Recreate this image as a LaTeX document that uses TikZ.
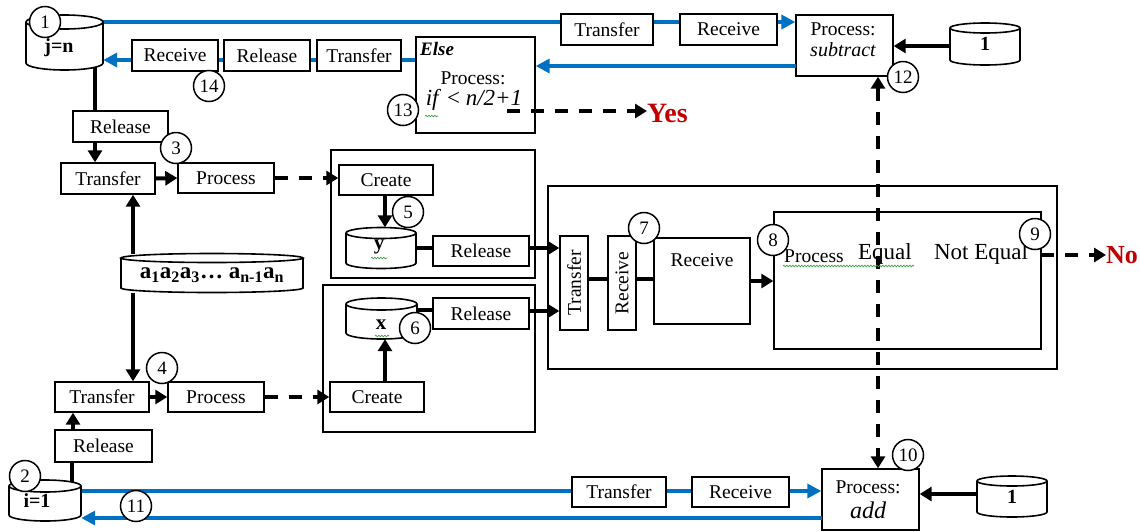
\documentclass[tikz,border=0pt]{standalone}
\usepackage{fontspec}
\setmainfont{Liberation Serif}
\usetikzlibrary{arrows.meta,decorations.pathmorphing}
\definecolor{lblue}{RGB}{0,112,192}
\definecolor{dred}{RGB}{192,0,0}
\definecolor{sqg}{RGB}{60,160,60}
\newcommand\fsz[1]{\fontsize{#1}{#1}\selectfont}
\newcommand\mkbox[7][]{\node[bx,minimum width={(#4)-(#3)},minimum height={(#6)-(#5)},#1] (#2) at ({((#3)+(#4))/2},{((#5)+(#6))/2}) {#7};}
\newcommand\mkcyl[6]{%
  \fill[white] (#2,#4) -- (#2,#5) arc[start angle=180,end angle=0,x radius={((#3)-(#2))/2},y radius=#6] -- (#3,#4) arc[start angle=0,end angle=-180,x radius={((#3)-(#2))/2},y radius=#6] -- cycle;
  \draw[cyl] (#2,#4) -- (#2,#5) arc[start angle=180,end angle=0,x radius={((#3)-(#2))/2},y radius=#6] -- (#3,#4);
  \draw[cyl] ({((#2)+(#3))/2},#4) ellipse[x radius={((#3)-(#2))/2},y radius=#6];
  \node[inner sep=0pt,minimum width={(#3)-(#2)},minimum height={(#5)-(#4)+2*(#6)}] (#1) at ({((#2)+(#3))/2},{((#4)+(#5))/2}) {};}
\pgfdeclarelayer{bg}
\pgfsetlayers{bg,main}
\begin{document}
\begin{tikzpicture}[x=1pt,y=-1pt,
  bx/.style={draw,line width=1.4pt,fill=white,inner sep=0pt,font=\fsz{19.5}},
  cont/.style={draw,line width=1.6pt,inner sep=0pt},
  num/.style={draw,circle,line width=1.5pt,fill=white,minimum size=31pt,inner sep=0pt,font=\fsz{19}},
  cyl/.style={line width=1.6pt},
  thk/.style={line width=4pt},
  arr/.style={-{Triangle[length=12pt,width=14pt]}},
  barr/.style={-{Triangle[length=14pt,width=14pt]}},
  dsh/.style={line width=4pt,dash pattern=on 13pt off 11pt},
  bl/.style={line width=3.6pt,draw=lblue,color=lblue},
  sq/.style={draw=sqg,line width=0.7pt,decorate,decoration={snake,amplitude=0.8pt,segment length=3pt}},
  lbl/.style={inner sep=0pt,font=\fsz{19.5}}]
\useasboundingbox (0,0) rectangle (1140,531);

% containers
\node[cont,minimum width=204pt,minimum height=128pt] (contY) at (433,214) {};
\node[cont,minimum width=212pt,minimum height=147pt] (contX) at (429,358.5) {};
\node[cont,minimum width=509pt,minimum height=183pt] (big) at (802.5,277.5) {};

% cylinders
\mkcyl{cJ}{26}{103}{22}{63}{7}
\mkcyl{cOne}{950}{1020}{28}{60}{5}
\mkcyl{cY}{346}{416}{233}{263}{5.5}
\mkcyl{cX}{346}{417}{304}{333}{6}
\mkcyl{cA}{121}{303}{258}{288}{4.5}
\mkcyl{cI}{9}{81}{486}{515}{6}
\mkcyl{cOneB}{977}{1047}{481}{512}{5}

\node[lbl,font=\bfseries\fsz{20}] (tJ) at (59,48) {j=n};
\node[lbl,font=\bfseries\fsz{20}] (tOne) at (985,44) {1};
\node[lbl,font=\bfseries\fsz{21}] (tY) at (379,247) {y};
\node[lbl,font=\bfseries\fsz{21}] (tX) at (381,325) {x};
\node[lbl,font=\bfseries\fsz{23}] (tA) at (212,275) {a\textsubscript{1}a\textsubscript{2}a\textsubscript{3}… a\textsubscript{n-1}a\textsubscript{n}};
\node[lbl,font=\bfseries\fsz{20}] (tI) at (37,501) {i=1};
\node[lbl,font=\bfseries\fsz{20}] (tOneB) at (1012,497) {1};

% boxes
\mkbox{tT1}{561}{653}{14}{45}{Transfer}
\mkbox{tR1}{680}{777}{14}{45}{Receive}
\mkbox{sub}{796}{893}{15}{76}{}
\mkbox{else}{416}{535}{37}{133}{}
\mkbox{tR2}{132}{218}{40}{71}{Receive}
\mkbox{tL2}{224}{310}{40}{71}{Release}
\mkbox{tT2}{317}{401}{40}{71}{Transfer}
\mkbox{rel1}{73}{168}{111}{142}{Release}
\mkbox{tr1}{61}{155}{163}{194}{Transfer}
\mkbox{pr1}{178}{274}{163}{193}{Process}
\mkbox{cr1}{339}{433}{165}{195}{Create}
\mkbox{relY}{433}{529}{236}{266}{Release}
\mkbox{relX}{433}{529}{298}{329}{Release}
\mkbox{crB}{330}{424}{382}{412}{Create}
\mkbox{trB}{55}{149}{382}{412}{Transfer}
\mkbox{prB}{168}{264}{382}{412}{Process}
\mkbox{relB}{55}{152}{430}{462}{Release}
\mkbox{trV}{560}{588}{236}{330}{}
\mkbox{rcV}{608}{636}{236}{330}{}
\mkbox{rcB}{654}{750}{238}{324}{}
\mkbox{inner}{774}{1041}{212}{349}{}
\mkbox{bT}{572}{666}{477}{507}{Transfer}
\mkbox{bR}{692}{789}{477}{507}{Receive}
\mkbox{add}{822}{919}{469}{530}{}

% texts inside boxes
\node[lbl] (subP) at (843,29) {Process:};
\node[lbl,font=\itshape\fsz{20}] (subS) at (843,50) {subtract};
\node[lbl] (addP) at (868,487) {Process:};
\node[lbl,font=\itshape\fsz{24}] (addA) at (868,510) {add};
\node[lbl,anchor=west,font=\bfseries\itshape\fsz{19}] (elseT) at (420,49) {Else};
\node[lbl] (elseP) at (473,78) {Process:};
\node[lbl,font=\fsz{23}] (elseIf) at (474,100) {\textit{if} < \textit{n/2+1}};
\node[lbl] (rcBT) at (702,260) {Receive};
\node[lbl,rotate=90] (trVT) at (574,283) {Transfer};
\node[lbl,rotate=90] (rcVT) at (622,283) {Receive};
\node[lbl,anchor=west] (inP) at (784,256) {Process};
\node[lbl,font=\fsz{23}] (inE) at (885,254) {Equal};
\node[lbl,font=\fsz{23}] (inNE) at (981,254) {Not Equal};
\node[inner sep=0pt,anchor=west,text=dred,font=\bfseries\fsz{28}] (yes) at (647,113) {Yes};
\node[inner sep=0pt,anchor=west,text=dred,font=\bfseries\fsz{26}] (no) at (1106,255) {No};

% blue lines passing behind boxes
\begin{pgfonlayer}{bg}
\coordinate (b1s) at (103,22);
\draw[bl,barr] (b1s) -- (b1s -| sub.west);
\coordinate (b3s) at (416,60);
\draw[bl,barr] (b3s) -- (b3s -| cJ.east);
\coordinate (b4s) at (81,491);
\draw[bl,barr] (b4s) -- (b4s -| add.west);
\end{pgfonlayer}
\coordinate (b2s) at (796,66);
\draw[bl,barr] (b2s) -- (b2s -| else.east);
\coordinate (b5s) at (822,518);
\draw[bl,barr] (b5s) -- (b5s -| cI.east);

% black connectors
\coordinate (k1) at (95,67);
\draw[thk] (k1) -- (k1 |- rel1.north);
\draw[thk,arr] (k1 |- rel1.south) -- (k1 |- tr1.north);
\draw[thk,arr] (tr1.east) -- (pr1.west);
\draw[dsh,arr] (pr1.east) -- (pr1.east -| cr1.west);
\coordinate (k5) at (385,195);
\draw[thk,arr] (k5) -- (k5 |- cY.north);
\coordinate (k6) at (416,248);
\draw[thk] (k6) -- (k6 -| relY.west);
\draw[thk,arr] (relY.east |- k6) -- (k6 -| trV.west);
\coordinate (k8) at (133,254);
\draw[thk,arr] (k8) -- (k8 |- tr1.south);
\coordinate (k9) at (133,293);
\draw[thk,arr] (k9) -- (k9 |- trB.north);
\draw[thk,arr] (trB.east) -- (prB.west);
\draw[dsh,arr] (prB.east) -- (crB.west);
\coordinate (k12) at (385,382);
\draw[thk,arr] (k12) -- (k12 |- cX.south);
\coordinate (k13) at (417,310);
\draw[thk] (k13) -- (k13 -| relX.west);
\coordinate (k14) at (529,311);
\draw[thk,arr] (k14) -- (k14 -| trV.west);
\coordinate (k15) at (73,430);
\draw[thk,arr] (k15) -- (k15 |- trB.south);
\coordinate (k16) at (72,482);
\draw[thk] (k16) -- (k16 |- relB.south);
\coordinate (k17) at (588,279);
\draw[thk] (k17) -- (k17 -| rcV.west);
\draw[thk] (k17 -| rcV.east) -- (k17 -| rcB.west);
\draw[thk,arr] (rcB.east) -- (rcB.east -| inner.west);
\coordinate (k19) at (1041,255);
\draw[dsh,arr] (k19) -- (k19 -| no.west);
\coordinate (k20) at (950,46);
\draw[thk,arr] (k20) -- (k20 -| sub.east);
\coordinate (k21) at (977,494);
\draw[thk,arr] (k21) -- (k21 -| add.east);
\coordinate (k22) at (878,76);
\draw[dsh,{Triangle[length=12pt,width=14pt]}-{Triangle[length=12pt,width=14pt]}] (k22 |- sub.south) -- (k22 |- add.north);
\coordinate (k23) at (507,111);
\draw[dsh,arr] (k23) -- (k23 -| yes.west);

% spell-check squiggles
\draw[sq] (371,258) -- (387,258);
\draw[sq] (375,336) -- (389,336);
\draw[sq] (425,116) -- (438,116);
\draw[sq] (783,266) -- (914,266);

% numbered circles
\node[num] (n1) at (45,22) {1};
\node[num] (n2) at (25,476) {2};
\node[num] (n3) at (176,148) {3};
\node[num] (n4) at (162,368) {4};
\node[num] (n5) at (408,212) {5};
\node[num] (n6) at (415,328) {6};
\node[num] (n7) at (644,228) {7};
\node[num] (n8) at (773,240) {8};
\node[num] (n9) at (1035,234) {9};
\node[num] (n10) at (908,455) {10};
\node[num] (n11) at (136,506) {11};
\node[num] (n12) at (903,77) {12};
\node[num] (n13) at (403,110) {13};
\node[num] (n14) at (209,86) {14};
\end{tikzpicture}
\end{document}
